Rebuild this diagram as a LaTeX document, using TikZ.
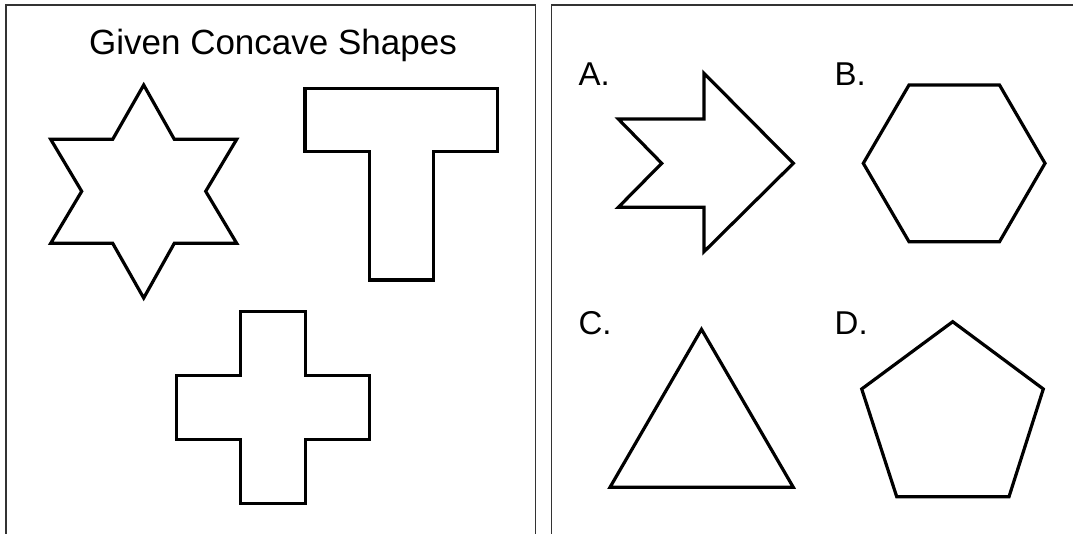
\documentclass[tikz,border=0pt]{standalone}
\usepackage{fontspec}
\setmainfont{Liberation Sans}
\begin{document}
\begin{tikzpicture}[x=1pt,y=-1pt,
  panel/.style={draw=black!80,line width=1.5pt},
  outline/.style={draw=black,line width=3.2pt,line join=miter},
  titletext/.style={anchor=base,inner sep=0pt,font=\fontsize{35}{42}\selectfont},
  labeltext/.style={anchor=base west,inner sep=0pt,font=\fontsize{33}{40}\selectfont}]
\useasboundingbox[fill=white] (0,0) rectangle (1073,533);
% panels
\draw[panel] (6,534) -- (6,5) -- (535.7,5) -- (535.7,534);
\draw[panel] (551.7,534) -- (551.7,5) -- (1074,5);
% title
\node[titletext] (title) at (273,54.3) {Given Concave Shapes};
% star of David
\draw[outline] (143.7,85) -- (174.3,139.3) -- (236.7,139.3) -- (205.7,191.3) -- (236.7,243.3) -- (174.3,243.3) -- (143.7,298) -- (112.7,243.3) -- (50.7,243.3) -- (81.7,191.3) -- (50.7,139.3) -- (112.7,139.3) -- cycle;
% T shape
\draw[outline] (305,88.3) -- (497.3,88.3) -- (497.3,151.5) -- (433.3,151.5) -- (433.3,280) -- (369.3,280) -- (369.3,151.5) -- (305,151.5) -- cycle;
% cross
\draw[outline] (240.5,311.4) -- (305.5,311.4) -- (305.5,375.2) -- (369.3,375.2) -- (369.3,439.6) -- (305.5,439.6) -- (305.5,503.3) -- (240.5,503.3) -- (240.5,439.6) -- (176.6,439.6) -- (176.6,375.2) -- (240.5,375.2) -- cycle;
% labels
\node[labeltext] (la) at (578.4,85.5) {A.};
\node[labeltext] (lb) at (834.5,85.5) {B.};
\node[labeltext] (lc) at (578.4,334.5) {C.};
\node[labeltext] (ld) at (834.5,334.5) {D.};
% A arrow
\draw[outline] (704,73.3) -- (793.3,163.3) -- (704,251.7) -- (704,207.3) -- (618.3,207.3) -- (661.7,163.3) -- (618.3,119) -- (704,119) -- cycle;
% B hexagon
\draw[outline] (909,85) -- (999.5,85) -- (1045,163.3) -- (999.5,241.7) -- (909,241.7) -- (863.3,163.3) -- cycle;
% C triangle
\draw[outline] (701.5,329.3) -- (793.3,487.3) -- (610,487.3) -- cycle;
% D pentagon
\draw[outline] (952.7,321.7) -- (1043.3,389) -- (1009,496.7) -- (896.7,496.7) -- (861.7,389) -- cycle;
\end{tikzpicture}
\end{document}
